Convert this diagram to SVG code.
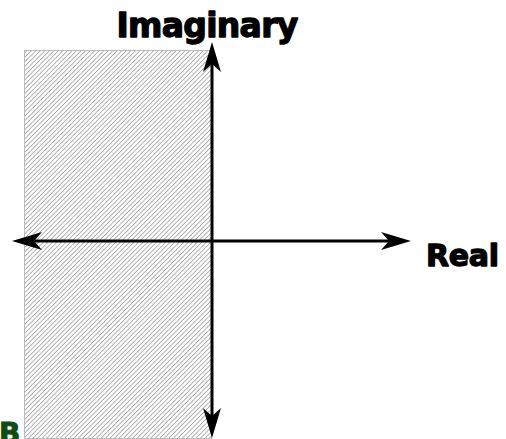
<svg xmlns="http://www.w3.org/2000/svg" width="506" height="439" viewBox="0 0 506 439">
<style>
.axis{stroke:#000;stroke-width:3;fill:none}
.head{fill:#000;stroke:none}
.lbl{font-family:"DejaVu Sans",Verdana,sans-serif;font-weight:bold;fill:#000;stroke:#000;stroke-width:1.3;stroke-linejoin:round}
</style>
<defs>
<pattern id="hatch" width="3.2" height="3.2" patternUnits="userSpaceOnUse" patternTransform="rotate(45)">
<rect width="3.2" height="3.2" fill="#fff"/>
<line x1="0" y1="0" x2="0" y2="3.2" stroke="#8c8c8c" stroke-width="1.3"/>
</pattern>
</defs>
<g id="region">
<rect x="24.5" y="50.5" width="187" height="388" fill="url(#hatch)" stroke="#bbb" stroke-width="1"/>
</g>
<g id="connectors">
<line class="axis" x1="212" y1="60" x2="212" y2="422"/>
<line class="axis" x1="28" y1="241" x2="395" y2="241"/>
<path class="head" d="M212,42 L221,72 L212,64 L203,72 Z"/>
<path class="head" d="M212,438 L221,408 L212,416 L203,408 Z"/>
<path class="head" d="M12,241 L42,232 L34,241 L42,250 Z"/>
<path class="head" d="M411,241 L381,232 L389,241 L381,250 Z"/>
</g>
<g id="imaginary">
<text class="lbl" x="207" y="37" font-size="33" text-anchor="middle" letter-spacing="-0.7">Imaginary</text>
</g>
<g id="real">
<text class="lbl" x="426" y="266" font-size="30" letter-spacing="-0.3">Real</text>
</g>
<g id="b">
<text x="-1" y="443" font-family="DejaVu Sans,sans-serif" font-weight="bold" font-size="28" fill="#0f4d14" stroke="#0f4d14" stroke-width="1">B</text>
</g>
</svg>
